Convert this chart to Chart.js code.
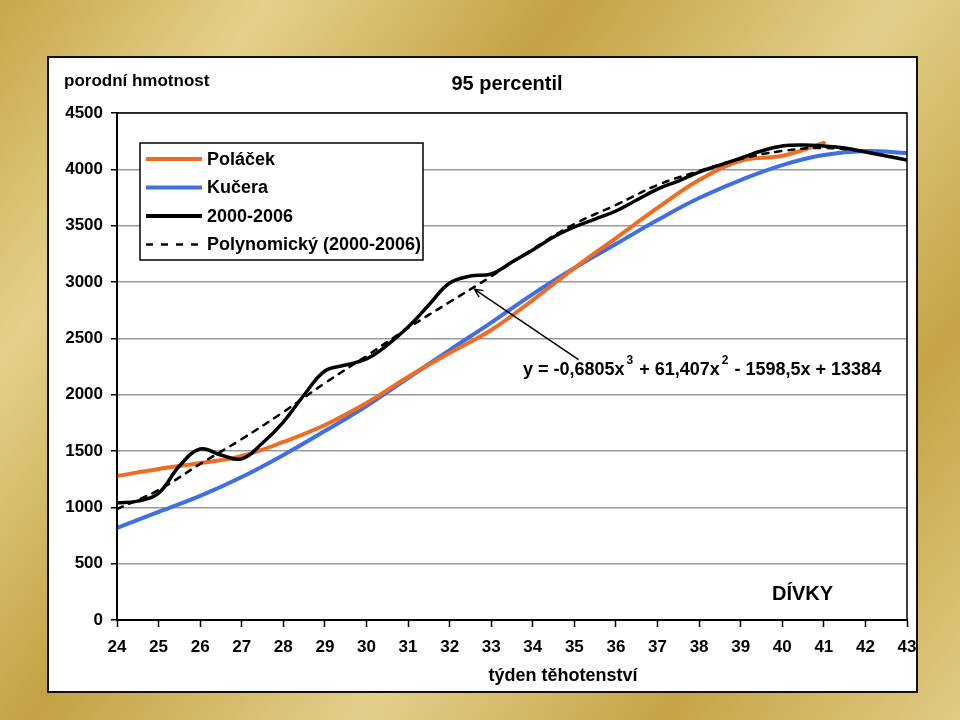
<!DOCTYPE html>
<html>
<head>
<meta charset="utf-8">
<script src="https://cdn.jsdelivr.net/npm/chart.js@4.4.0/dist/chart.umd.min.js"></script>
<style>
  html, body { margin: 0; padding: 0; background: #d6bd68; }
  #wrap { width: 960px; height: 720px; }
</style>
</head>
<body>
<div id="wrap"><canvas id="graf" width="960" height="720"></canvas></div>
<script>
// --- data ---
const tydnyPul = [24, 24.5, 25, 25.5, 26, 26.5, 27, 27.5, 28, 28.5, 29, 29.5, 30, 30.5, 31, 31.5,
  32, 32.5, 33, 33.5, 34, 34.5, 35, 35.5, 36, 36.5, 37, 37.5, 38, 38.5, 39, 39.5, 40, 40.5,
  41, 41.5, 42, 42.5, 43];
const vahy2000 = [1040, 1055, 1125, 1367, 1518, 1464, 1430, 1571, 1757, 1997, 2210, 2263, 2317, 2440,
  2600, 2796, 2991, 3053, 3071, 3177, 3284, 3399, 3488, 3559, 3630, 3728, 3825, 3896, 3976, 4038,
  4100, 4163, 4207, 4216, 4207, 4189, 4154, 4118, 4083];

const tydnyPolacek = [24, 25, 26, 27, 28, 29, 30, 31, 32, 33, 34, 35, 36, 37, 38, 39, 40, 41];
const vahyPolacek = [1278, 1340, 1393, 1456, 1580, 1731, 1926, 2157, 2370, 2574, 2840, 3124, 3390,
  3657, 3905, 4075, 4120, 4234];

const tydnyKucera = [24, 25, 26, 27, 28, 29, 30, 31, 32, 33, 34, 35, 36, 37, 38, 39, 40, 41, 42, 43];
const vahyKucera = [817, 959, 1101, 1269, 1464, 1677, 1899, 2148, 2396, 2640, 2893, 3124, 3337, 3550,
  3745, 3905, 4038, 4127, 4163, 4145];

const tydnyTrend = [24, 25, 26, 27, 28, 29, 30, 31, 32, 33, 34, 35, 36, 37, 38, 39, 40, 41, 42, 43];
const vahyTrend = [985, 1154, 1385, 1606, 1846, 2103, 2343, 2592, 2822, 3050, 3293, 3515, 3683, 3861,
  3985, 4092, 4163, 4190, 4154, 4085];

const popisky = ['Poláček', 'Kučera', '2000-2006', 'Polynomický (2000-2006)'];
const rovnice = ['y = -0,6805x', '3', ' + 61,407x', '2', ' - 1598,5x + 13384'];
const sipkaOd = [35.1, 2310];
const sipkaK = [32.6, 2935];

const PISMO = '"Liberation Sans", Arial, sans-serif';
const body = (xs, ys) => xs.map((x, i) => ({ x: x, y: ys[i] }));

// pozadí: zlatý přechod + bílý panel
const pozadi = {
  id: 'pozadi',
  beforeDraw(chart) {
    const c = chart.ctx;
    const g = c.createLinearGradient(0, 0, 960, 720);
    g.addColorStop(0, '#c9a64a');
    g.addColorStop(0.18, '#e4d08a');
    g.addColorStop(0.38, '#c4a144');
    g.addColorStop(0.6, '#e2cf8a');
    g.addColorStop(0.8, '#c6a346');
    g.addColorStop(1, '#e0cb83');
    c.save();
    c.fillStyle = g;
    c.fillRect(0, 0, 960, 720);
    c.fillStyle = '#fff';
    c.fillRect(48, 57, 869, 635);
    c.strokeStyle = '#111';
    c.lineWidth = 2;
    c.strokeRect(48, 57, 869, 635);
    c.restore();
  }
};

// popisky, legenda, rovnice, šipka
const popis = {
  id: 'popis',
  afterDraw(chart) {
    const c = chart.ctx, a = chart.chartArea;
    const sx = chart.scales.x, sy = chart.scales.y;
    c.save();
    c.strokeStyle = '#000';
    c.lineWidth = 1.5;
    c.strokeRect(a.left, a.top, a.right - a.left, a.bottom - a.top);

    c.fillStyle = '#000';
    c.textBaseline = 'middle';
    c.font = 'bold 17px ' + PISMO;
    c.textAlign = 'left';
    c.fillText('porodní hmotnost', 64, 81);
    c.font = 'bold 20px ' + PISMO;
    c.textAlign = 'center';
    c.fillText('95 percentil', 507, 84);
    c.font = 'bold 18px ' + PISMO;
    c.fillText('týden těhotenství', 563, 676);
    c.font = 'bold 20px ' + PISMO;
    c.textAlign = 'left';
    c.fillText('DÍVKY', 772, 594);

    // legenda
    c.fillStyle = '#fff';
    c.fillRect(140, 143, 283, 117);
    c.strokeStyle = '#000';
    c.lineWidth = 1.5;
    c.strokeRect(140, 143, 283, 117);
    chart.data.datasets.forEach((ds, i) => {
      const y = 159 + i * 28.5;
      c.beginPath();
      c.strokeStyle = ds.borderColor;
      c.lineWidth = ds.borderDash ? 2.5 : 4;
      c.setLineDash(ds.borderDash ? [7, 8] : []);
      c.moveTo(146, y);
      c.lineTo(202, y);
      c.stroke();
      c.setLineDash([]);
      c.fillStyle = '#000';
      c.font = 'bold 18px ' + PISMO;
      c.fillText(ds.label, 207, y + 1);
    });

    // rovnice trendu
    let x = 523;
    rovnice.forEach((t, i) => {
      const sup = i % 2 === 1;
      c.font = 'bold ' + (sup ? 12 : 18) + 'px ' + PISMO;
      c.fillText(t, x + (sup ? 2 : 0), sup ? 361 : 370);
      x += c.measureText(t).width + (sup ? 3 : 0);
    });

    // šipka
    const x1 = sx.getPixelForValue(sipkaOd[0]), y1 = sy.getPixelForValue(sipkaOd[1]);
    const x2 = sx.getPixelForValue(sipkaK[0]), y2 = sy.getPixelForValue(sipkaK[1]);
    const uhel = Math.atan2(y2 - y1, x2 - x1);
    c.strokeStyle = '#000';
    c.lineWidth = 1.5;
    c.beginPath();
    c.moveTo(x1, y1);
    c.lineTo(x2, y2);
    c.moveTo(x2 - 9 * Math.cos(uhel - 0.45), y2 - 9 * Math.sin(uhel - 0.45));
    c.lineTo(x2, y2);
    c.lineTo(x2 - 9 * Math.cos(uhel + 0.45), y2 - 9 * Math.sin(uhel + 0.45));
    c.stroke();
    c.restore();
  }
};

new Chart(document.getElementById('graf'), {
  type: 'line',
  data: {
    datasets: [
      { label: popisky[0], data: body(tydnyPolacek, vahyPolacek), borderColor: '#f06c22',
        borderWidth: 4, order: 2 },
      { label: popisky[1], data: body(tydnyKucera, vahyKucera), borderColor: '#3e6fe4',
        borderWidth: 4, order: 3 },
      { label: popisky[2], data: body(tydnyPul, vahy2000), borderColor: '#000',
        borderWidth: 3.5, order: 1 },
      { label: popisky[3], data: body(tydnyTrend, vahyTrend), borderColor: '#000',
        borderWidth: 2.5, borderDash: [6, 7], order: 0 }
    ]
  },
  options: {
    responsive: false,
    animation: false,
    devicePixelRatio: 1,
    layout: { padding: { left: 48, right: 53, top: 113, bottom: 60 } },
    elements: {
      point: { radius: 0 },
      line: { tension: 0.4, fill: false, borderCapStyle: 'round', borderJoinStyle: 'round' }
    },
    plugins: { legend: { display: false }, tooltip: { enabled: false } },
    scales: {
      x: {
        type: 'linear', min: 24, max: 43,
        afterFit: s => { s.height = 40; },
        ticks: { stepSize: 1, color: '#000', padding: 10, callback: v => String(v),
          font: { family: PISMO, size: 17, weight: 'bold' } },
        grid: { drawOnChartArea: false, tickLength: 7, tickColor: '#000', tickWidth: 1.5 },
        border: { color: '#000', width: 2 }
      },
      y: {
        min: 0, max: 4500,
        afterFit: s => { s.width = 69; },
        ticks: { stepSize: 500, color: '#000', padding: 8, callback: v => String(v),
          font: { family: PISMO, size: 17, weight: 'bold' } },
        grid: { color: '#9a9a9a', lineWidth: 1.5, tickLength: 6, tickColor: '#000', tickWidth: 1.5 },
        border: { color: '#000', width: 2 }
      }
    }
  },
  plugins: [pozadi, popis]
});
</script>
</body>
</html>
